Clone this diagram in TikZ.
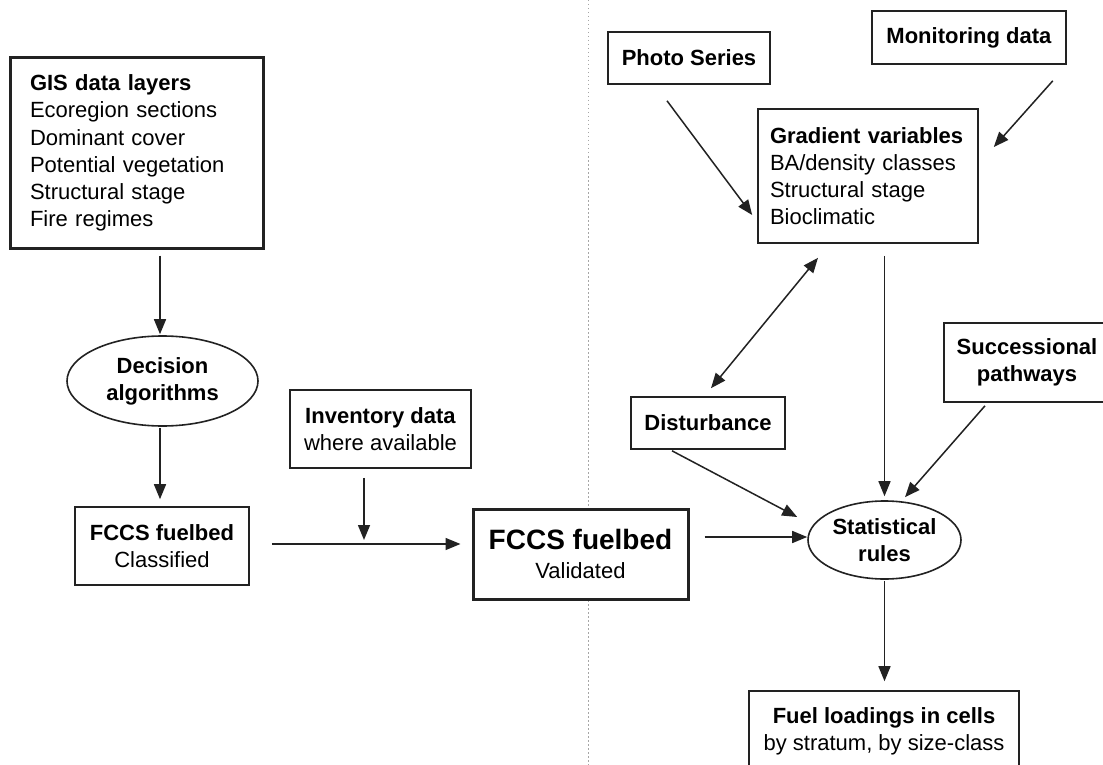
\documentclass[tikz,border=0pt]{standalone}
\usepackage{fontspec}
\setmainfont{Liberation Sans}
\usetikzlibrary{arrows.meta,shapes.geometric,calc}
\definecolor{ink}{HTML}{222222}
\begin{document}
\begin{tikzpicture}[x=1pt,y=-1pt,
  box/.style={draw=ink, line width=1.6pt, fill=white, inner sep=0pt, align=center,
    font=\fontsize{22}{27.2}\selectfont},
  thickbox/.style={box, line width=3pt},
  oval/.style={box, ellipse},
  tip/.tip={Triangle[length=15pt,width=12pt]},
  arr/.style={draw=ink, line width=1.5pt, -tip},
  dbl/.style={draw=ink, line width=1.5pt, tip-tip},
  divider/.style={draw=gray!70, line width=1pt, dash pattern=on 1.5pt off 2.5pt}
]
\useasboundingbox (0,0) rectangle (1103,765);
\fill[white] (0,0) rectangle (1103,765);

% divider
\coordinate (dtop) at (588,0);
\coordinate (dbot) at (588,765);
\draw[divider] (dtop) -- (dbot);

% left part
\node[thickbox, minimum width=253pt, minimum height=190pt, text width=213pt,
  inner xsep=20pt, align=left] (gis) at (136.5,153)
  {\textbf{GIS data layers}\\Ecoregion sections\\Dominant cover\\Potential vegetation\\Structural stage\\Fire regimes};
\node[oval, minimum width=191pt, minimum height=90pt] (dec) at (162.5,381)
  {\textbf{Decision}\\\textbf{algorithms}};
\node[box, minimum width=174pt, minimum height=78pt] (cls) at (162,546)
  {\textbf{FCCS fuelbed}\\Classified};
\node[box, minimum width=181pt, minimum height=78pt] (inv) at (380.5,429)
  {\textbf{Inventory data}\\where available};
\node[thickbox, minimum width=215pt, minimum height=90pt] (val) at (580.5,554)
  {{\fontsize{28}{30}\selectfont\textbf{FCCS fuelbed}}\\[2pt]Validated};
\coordinate (j) at (364,544);
\coordinate (ax) at (160,0);

% right part
\node[box, minimum width=162pt, minimum height=52pt] (photo) at (689,58)
  {\textbf{Photo Series}};
\node[box, minimum width=194pt, minimum height=53pt] (mon) at (969,37.5)
  {\textbf{Monitoring data}};
\node[box, minimum width=220pt, minimum height=134pt, text width=196pt,
  inner xsep=12pt, align=left] (grad) at (868,176)
  {\textbf{Gradient variables}\\BA/density classes\\Structural stage\\Bioclimatic};
\node[box, minimum width=154pt, minimum height=52pt] (dist) at (708,423)
  {\textbf{Disturbance}};
\node[box, minimum width=166pt, minimum height=79pt] (succ) at (1027,362.5)
  {\textbf{Successional}\\\textbf{pathways}};
\node[oval, minimum width=153pt, minimum height=78pt] (stat) at (884.5,540)
  {\textbf{Statistical}\\\textbf{rules}};
\node[box, minimum width=270pt, minimum height=81pt] (fuel) at (884,731.5)
  {\textbf{Fuel loadings in cells}\\by stratum, by size-class};

% connectors left
\draw[arr, shorten <=6pt, shorten >=1pt] (ax |- gis.south) -- (ax |- dec.north);
\draw[arr, shorten <=1pt, shorten >=7pt] (ax |- dec.south) -- (ax |- cls.north);
\draw[arr, shorten <=22pt, shorten >=11pt] ([yshift=2pt]cls.east) -- ([yshift=10pt]val.west);
\draw[arr, shorten <=9pt, shorten >=4pt] (inv.south -| j) -- (j);

% connectors right
\draw[arr, shorten <=15pt] ([yshift=17pt]val.east) -- ([yshift=3pt]stat.west);
\draw[arr] ([xshift=-22pt,yshift=-16pt]photo.south) -- ([xshift=-5pt,yshift=-39pt]grad.west);
\draw[arr] ([xshift=-14pt,yshift=-16pt]mon.south east) -- ([xshift=15pt,yshift=29pt]grad.east);
\draw[dbl] ([xshift=-50pt,yshift=-14pt]grad.south) -- ([xshift=3pt,yshift=8pt]dist.north);
\draw[arr, shorten <=12pt, shorten >=4pt] (stat.north |- grad.south) -- (stat.north);
\draw[arr] ([xshift=-36pt,yshift=-1pt]dist.south) -- ([xshift=-10pt,yshift=23pt]stat.west);
\draw[arr] ([xshift=-42pt,yshift=-3pt]succ.south) -- ([xshift=20.5pt,yshift=3pt]stat.north);
\draw[arr, shorten <=1pt, shorten >=9pt] (stat.south) -- (fuel.north -| stat.south);
\end{tikzpicture}
\end{document}
